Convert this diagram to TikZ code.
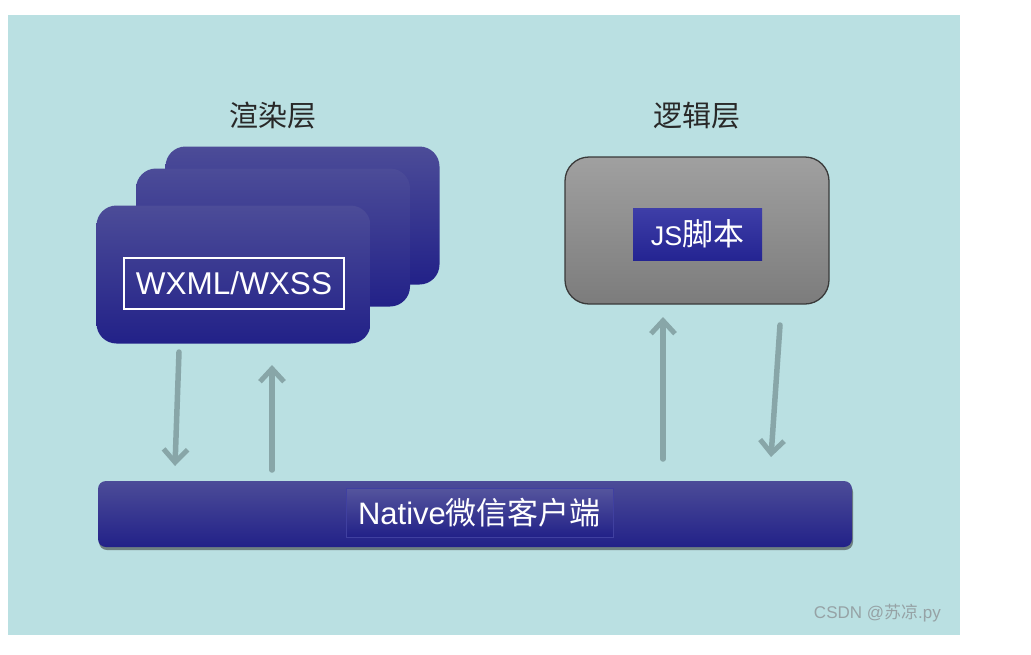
\documentclass[tikz,border=0pt]{standalone}
\usepackage{fontspec}
\setmainfont{Liberation Sans}
\newfontfamily\cjk{Noto Sans CJK SC}
\usetikzlibrary{arrows.meta,shadows}
\definecolor{bgc}{RGB}{186,224,226}
\definecolor{btop}{RGB}{76,76,152}
\definecolor{bbot}{RGB}{34,33,136}
\definecolor{gtop}{RGB}{160,160,160}
\definecolor{gbot}{RGB}{124,124,124}
\definecolor{gedge}{RGB}{58,58,58}
\definecolor{arr}{RGB}{136,166,168}
\definecolor{ttl}{RGB}{40,40,40}
\definecolor{wm}{RGB}{150,162,165}
\definecolor{itop}{RGB}{62,62,168}
\definecolor{ibot}{RGB}{36,36,146}
\definecolor{iedge}{RGB}{64,64,160}
\tikzset{
  layerbox/.style={rounded corners=20pt, top color=btop, bottom color=bbot, minimum width=274pt, minimum height=138pt, inner sep=0pt},
  title/.style={text=ttl, font=\cjk\fontsize{29}{34}\selectfont, inner sep=0pt},
  flow/.style={draw=arr, line width=5.5pt, line cap=round, -{Straight Barb[length=13pt,width=24pt,line width=5pt]}},
  wtext/.style={text=white, inner sep=0pt}
}
\begin{document}
\begin{tikzpicture}[x=1pt,y=-1pt]
\useasboundingbox (0,0) rectangle (1031,654);
\fill[white] (0,0) rectangle (1031,654);
\fill[bgc] (8,15) rectangle (960,635);

% titles
\node[title] (t1) at (273,116) {渲染层};
\node[title] (t2) at (697,116) {逻辑层};

% render layer stack
\node[layerbox] (b3) at (302.5,215.5) {};
\node[layerbox] (b2) at (273,237.5) {};
\node[layerbox] (b1) at (233.5,274.5) {};
\node[draw=white, line width=2pt, minimum width=220pt, minimum height=51pt, inner sep=0pt,
      text=white, font=\fontsize{31.5}{34}\selectfont] (wx) at (234,283.5) {WXML/WXSS};

% logic layer
\node[rounded corners=24pt, top color=gtop, bottom color=gbot, draw=gedge, line width=1.3pt,
      minimum width=264pt, minimum height=147pt, inner sep=0pt] (lg) at (697,230.5) {};
\node[top color=itop, bottom color=ibot, minimum width=129pt, minimum height=52pt, inner sep=0pt,
      text=white, font=\fontsize{27}{30}\selectfont] (js) at (697.5,234) {JS{\cjk\fontsize{31}{30}\selectfont 脚本}};

% native bar
\node[rounded corners=8pt, top color=btop, bottom color=bbot, minimum width=754pt, minimum height=66pt,
      inner sep=0pt, drop shadow={shadow xshift=1pt, shadow yshift=-3pt, opacity=0.55, fill=black!80}] (nat) at (475,514) {};
\node[top color=btop!95!white, bottom color=bbot, draw=iedge, line width=0.6pt, minimum width=267pt, minimum height=49pt,
      inner sep=0pt, text=white, font=\fontsize{31}{34}\selectfont] (nt) at (479.5,512.5) {Native{\cjk 微信客户端}};

% arrows
\coordinate (a1s) at (179,352);
\coordinate (a1e) at (175,466);
\coordinate (a2s) at (272,470);
\coordinate (a2e) at (272,365);
\coordinate (a3s) at (663,459);
\coordinate (a3e) at (663,317);
\coordinate (a4s) at (780,325);
\coordinate (a4e) at (771,457);
\draw[flow] (a1s) -- (a1e);
\draw[flow] (a2s) -- (a2e);
\draw[flow] (a3s) -- (a3e);
\draw[flow] (a4s) -- (a4e);

% watermark
\node[text=wm, font=\fontsize{17}{18}\selectfont, inner sep=0pt, anchor=east] (wmk) at (941,613) {CSDN @{\cjk 苏凉}.py};
\end{tikzpicture}
\end{document}
